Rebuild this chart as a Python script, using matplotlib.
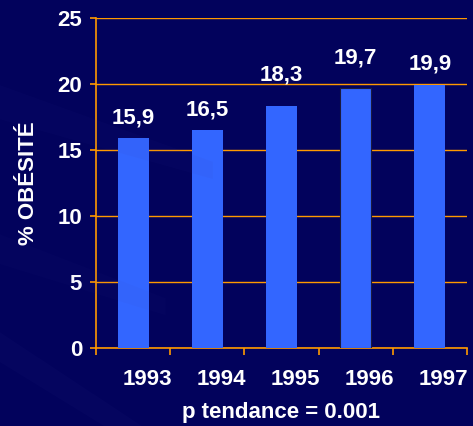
import matplotlib
matplotlib.use("Agg")
import matplotlib.pyplot as plt
import matplotlib.transforms as mtransforms
from matplotlib.patches import Polygon

# data
years = ["1993", "1994", "1995", "1996", "1997"]
obesity = [15.9, 16.5, 18.3, 19.7, 19.9]
value_labels = ["15,9", "16,5", "18,3", "19,7", "19,9"]
label_lift = [10, 10, 21, 19, 11]  # pixels above the bar top, as in the slide

bg = "#02025c"
bar_color = "#3366ff"
grid_color = "#ff9900"
fs = 16

plt.rcParams["font.family"] = ["Liberation Sans", "DejaVu Sans"]
plt.rcParams["font.weight"] = "bold"

fig = plt.figure(figsize=(4.73, 4.26), dpi=100)
fig.patch.set_facecolor(bg)

# faint diagonal streaks in the slide background
for pts, a in [([(0, 0.80), (0.45, 0.62), (0.45, 0.58), (0, 0.72)], 0.05),
               ([(0, 0.45), (0.35, 0.30), (0.35, 0.26), (0, 0.38)], 0.04),
               ([(0, 0.22), (0.30, 0.0), (0.22, 0.0), (0, 0.15)], 0.06)]:
    fig.patches.append(Polygon(pts, closed=True, transform=fig.transFigure,
                               facecolor="#3a3aa0", alpha=a, edgecolor="none", zorder=0))

ax = fig.add_axes([0.203, 0.183, 0.784, 0.775])
ax.set_facecolor("none")

x = list(range(len(years)))
bars = ax.bar(x, obesity, width=0.42, color=bar_color, zorder=3)
bars[3].set_edgecolor("#1a1a40")
bars[3].set_linewidth(0.8)

ax.set_xlim(-0.5, len(years) - 0.5)
ax.set_ylim(0, 25)
ax.set_yticks([0, 5, 10, 15, 20, 25])
ax.yaxis.grid(True, color=grid_color, linewidth=1.0, zorder=1)
ax.set_axisbelow(True)

for side in ["top", "right"]:
    ax.spines[side].set_visible(False)
for side in ["left", "bottom"]:
    ax.spines[side].set_color(grid_color)
    ax.spines[side].set_linewidth(1.2)

# ticks between categories on x, labels shifted right like the original
ax.set_xticks([i - 0.5 for i in range(len(years) + 1)], minor=False)
ax.set_xticklabels([""] * (len(years) + 1))
ax.set_xticks(x, minor=True)
ax.set_xticklabels(years, minor=True)
ax.tick_params(axis="x", which="major", length=5, color=grid_color, width=1.2)
ax.tick_params(axis="x", which="minor", length=0, pad=15,
               labelsize=fs, labelcolor="white")
shift = mtransforms.ScaledTranslation(14 / 100, 0, fig.dpi_scale_trans)
for lab in ax.get_xticklabels(minor=True):
    lab.set_transform(lab.get_transform() + shift)

ax.tick_params(axis="y", length=4, color=grid_color, width=1.2,
               labelsize=fs, labelcolor="white", pad=6)

for xi, v, txt, lift in zip(x, obesity, value_labels, label_lift):
    ax.annotate(txt, (xi, v), xytext=(0, lift * 0.72), textcoords="offset points",
                ha="center", va="bottom", color="white", fontsize=fs,
                fontweight="bold")

ax.set_ylabel("% OBÉSITÉ", color="white", fontsize=fs, fontweight="bold", labelpad=13)
ax.set_xlabel("p tendance = 0.001", color="white", fontsize=fs, fontweight="bold", labelpad=9)

fig.savefig("out.png", dpi=100, facecolor=fig.get_facecolor())
